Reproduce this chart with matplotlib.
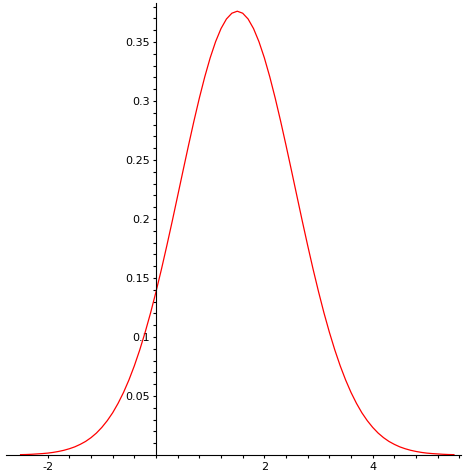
import numpy as np
import matplotlib
matplotlib.use("Agg")
import matplotlib.pyplot as plt
from matplotlib.ticker import FixedLocator

x_start, x_end = -2.5, 5.5
density = [
    0.0003, 0.0004, 0.0006, 0.0009, 0.0012, 0.0016, 0.0022, 0.0030, 0.0040, 0.0053,
    0.0069, 0.0090, 0.0115, 0.0147, 0.0186, 0.0234, 0.0291, 0.0358, 0.0438, 0.0530,
    0.0636, 0.0756, 0.0891, 0.1041, 0.1205, 0.1384, 0.1574, 0.1775, 0.1983, 0.2197,
    0.2412, 0.2624, 0.2830, 0.3025, 0.3205, 0.3366, 0.3503, 0.3614, 0.3695, 0.3744,
    0.3761,
    0.3744, 0.3695, 0.3614, 0.3503, 0.3366, 0.3205, 0.3025, 0.2830, 0.2624, 0.2412,
    0.2197, 0.1983, 0.1775, 0.1574, 0.1384, 0.1205, 0.1041, 0.0891, 0.0756, 0.0636,
    0.0530, 0.0438, 0.0358, 0.0291, 0.0234, 0.0186, 0.0147, 0.0115, 0.0090, 0.0069,
    0.0053, 0.0040, 0.0030, 0.0022, 0.0016, 0.0012, 0.0009, 0.0006, 0.0004, 0.0003,
]
x_labels = [-2, 2, 4]
y_labels = [0.05, 0.1, 0.15, 0.2, 0.25, 0.3, 0.35]

plt.rcParams["font.family"] = ["DejaVu Sans"]
plt.rcParams["axes.unicode_minus"] = False

xs = np.linspace(x_start, x_end, len(density))

fig = plt.figure(figsize=(4.74, 4.74), dpi=100)
ax = fig.add_axes([0, 0, 1, 1])
ax.set_xlim(-2.88, 5.87)
ax.set_ylim(-0.0161, 0.3856)

ax.plot(xs, density, color="red", linewidth=0.9)

for side in ["top", "right"]:
    ax.spines[side].set_visible(False)
ax.spines["bottom"].set_position(("data", 0))
ax.spines["left"].set_position(("data", 0))
ax.spines["bottom"].set_bounds(-2.77, 5.63)
ax.spines["left"].set_bounds(0, 0.383)
for side in ["bottom", "left"]:
    ax.spines[side].set_linewidth(0.8)

ax.xaxis.set_major_locator(FixedLocator(x_labels))
ax.xaxis.set_minor_locator(FixedLocator(np.arange(-5, 15) * 0.4))
ax.set_xticklabels([str(v) for v in x_labels])
ax.yaxis.set_major_locator(FixedLocator(y_labels))
ax.yaxis.set_minor_locator(FixedLocator(np.arange(1, 39) * 0.01))
ax.set_yticklabels([f"{v:g}" for v in y_labels])

ax.tick_params(axis="x", which="both", direction="out", length=2.2, width=0.8,
               labelsize=8, pad=3)
ax.tick_params(axis="y", which="both", direction="out", length=2.2, width=0.8,
               labelsize=8, pad=2)

fig.savefig("out.png", dpi=100)
